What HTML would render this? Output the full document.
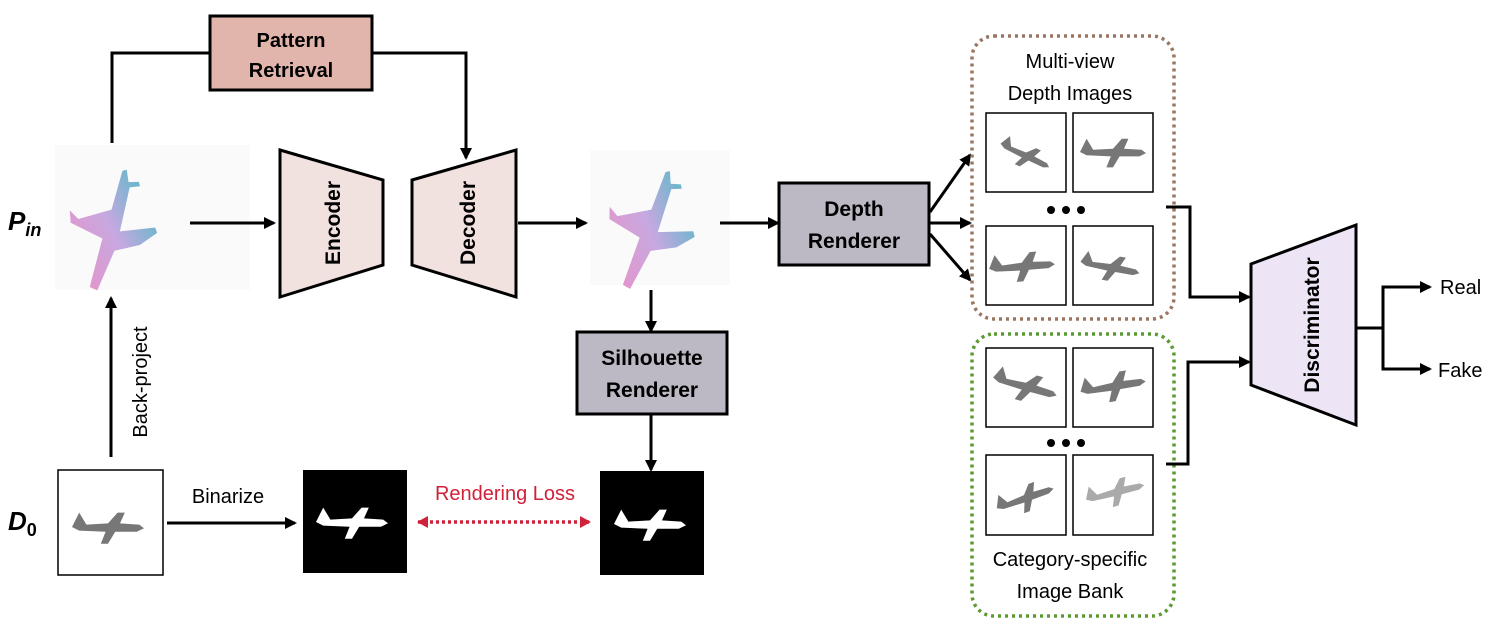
<!DOCTYPE html>
<html><head><meta charset="utf-8"><style>
body{margin:0;background:#fff}
svg{display:block}
text{font-family:"Liberation Sans",sans-serif}
</style></head><body>
<svg width="1495" height="628" viewBox="0 0 1495 628" xmlns="http://www.w3.org/2000/svg">
<defs>
<marker id="a" markerWidth="12" markerHeight="12" refX="10" refY="6" orient="auto" markerUnits="userSpaceOnUse"><path d="M0,0 L12,6 L0,12 z" fill="#000"/></marker>
<marker id="r" markerWidth="11" markerHeight="12" refX="10" refY="6" orient="auto-start-reverse" markerUnits="userSpaceOnUse"><path d="M0,0 L11,6 L0,12 z" fill="#d0213a"/></marker>
<linearGradient id="pg" x1="0" y1="1" x2="1" y2="0"><stop offset="0" stop-color="#f08cc0"/><stop offset="0.5" stop-color="#c8a8e0"/><stop offset="1" stop-color="#30c0c0"/></linearGradient>
<g id="plane3d">
<path d="M0,-60 L-4,-20 L-35,-5 L-45,-12 L-42,0 L-8,10 L-12,60 L-4,62 L6,20 L30,10 L45,-5 L42,-10 L8,0 L10,-45 L20,-48 L18,-52 L8,-50 L4,-62 z" fill="url(#pg)"/>
</g>
<g id="pl"><path d="M-30,0 L-24,-12 L-18,-2 L0,-3 L8,-12 L14,-12 L10,-3 L26,-2 L30,1 L24,4 L6,4 L0,14 L-6,14 L-2,4 L-24,3 z"/></g>
</defs>

<rect x="210" y="16" width="162" height="74" fill="#e1b5ab" stroke="#000" stroke-width="3"/>
<text x="291" y="47" font-size="20" font-weight="bold" text-anchor="middle">Pattern</text>
<text x="291" y="77" font-size="20" font-weight="bold" text-anchor="middle">Retrieval</text>
<polyline points="112,143 112,53 210,53" fill="none" stroke="#000" stroke-width="3"/>
<polyline points="372,53 466,53 466,158" fill="none" stroke="#000" stroke-width="3" marker-end="url(#a)"/>

<text x="8" y="230" font-size="26" font-weight="bold" font-style="italic" font-family="Liberation Serif,serif">P<tspan font-size="18" dy="6">in</tspan></text>
<rect x="55" y="145" width="195" height="145" fill="#fafafa"/>
<use href="#plane3d" transform="translate(112,230) rotate(10)"/>
<line x1="190" y1="223" x2="274" y2="223" stroke="#000" stroke-width="3" marker-end="url(#a)"/>

<polygon points="280,150 383,180 383,265 280,297" fill="#f1e1df" stroke="#000" stroke-width="3"/>
<text transform="translate(340,223) rotate(-90)" font-size="21" font-weight="bold" text-anchor="middle">Encoder</text>
<polygon points="412,180 516,150 516,297 412,265" fill="#f1e1df" stroke="#000" stroke-width="3"/>
<text transform="translate(475,223) rotate(-90)" font-size="21" font-weight="bold" text-anchor="middle">Decoder</text>
<line x1="518" y1="223" x2="586" y2="223" stroke="#000" stroke-width="3" marker-end="url(#a)"/>

<rect x="590" y="150" width="140" height="135" fill="#fafafa"/>
<use href="#plane3d" transform="translate(650,230) rotate(15)"/>
<line x1="720" y1="223" x2="778" y2="223" stroke="#000" stroke-width="3" marker-end="url(#a)"/>

<rect x="779" y="183" width="150" height="82" fill="#bcb8c4" stroke="#000" stroke-width="3"/>
<text x="854" y="216" font-size="21" font-weight="bold" text-anchor="middle">Depth</text>
<text x="854" y="248" font-size="21" font-weight="bold" text-anchor="middle">Renderer</text>
<line x1="930" y1="212" x2="970" y2="155" stroke="#000" stroke-width="3" marker-end="url(#a)"/>
<line x1="930" y1="223" x2="970" y2="223" stroke="#000" stroke-width="3" marker-end="url(#a)"/>
<line x1="930" y1="234" x2="970" y2="280" stroke="#000" stroke-width="3" marker-end="url(#a)"/>

<rect x="972" y="36" width="202" height="283" rx="22" fill="none" stroke="#9a7560" stroke-width="3.5" stroke-dasharray="3,4"/>
<text x="1070" y="68" font-size="20" text-anchor="middle">Multi-view</text>
<text x="1070" y="100" font-size="20" text-anchor="middle">Depth Images</text>
<g fill="#fff" stroke="#000" stroke-width="1.5">
<rect x="986" y="113" width="80" height="79"/><rect x="1073" y="113" width="80" height="79"/>
<rect x="986" y="226" width="80" height="79"/><rect x="1073" y="226" width="80" height="79"/>
<rect x="986" y="348" width="80" height="79"/><rect x="1073" y="348" width="80" height="79"/>
<rect x="986" y="455" width="80" height="80"/><rect x="1073" y="455" width="80" height="80"/>
</g>
<g fill="#777">
<use href="#pl" transform="translate(1025,155) rotate(25) scale(0.9)"/>
<use href="#pl" transform="translate(1113,152) scale(1.1)"/>
<use href="#pl" transform="translate(1022,266) rotate(-5) scale(1.1)"/>
<use href="#pl" transform="translate(1110,267) rotate(10) scale(1)"/>
<use href="#pl" transform="translate(1025,386) rotate(15) scale(1.1)"/>
<use href="#pl" transform="translate(1113,386) rotate(-10) scale(1.1)"/>
<use href="#pl" transform="translate(1025,498) rotate(-20) scale(1)"/>
<use href="#pl" transform="translate(1115,492) rotate(-15) scale(1)" fill="#aaa"/>
</g>
<g fill="#000"><circle cx="1051" cy="210" r="4"/><circle cx="1066" cy="210" r="4"/><circle cx="1081" cy="210" r="4"/>
<circle cx="1051" cy="443" r="4"/><circle cx="1066" cy="443" r="4"/><circle cx="1081" cy="443" r="4"/></g>

<rect x="972" y="334" width="202" height="282" rx="22" fill="none" stroke="#5a9a30" stroke-width="3.5" stroke-dasharray="3,4"/>
<text x="1070" y="566" font-size="20" text-anchor="middle">Category-specific</text>
<text x="1070" y="598" font-size="20" text-anchor="middle">Image Bank</text>

<polyline points="1166,207 1190,207 1190,297 1249,297" fill="none" stroke="#000" stroke-width="3" marker-end="url(#a)"/>
<polyline points="1166,464 1188,464 1188,362 1249,362" fill="none" stroke="#000" stroke-width="3" marker-end="url(#a)"/>
<polygon points="1251,264 1356,225 1356,425 1251,385" fill="#ede4f6" stroke="#000" stroke-width="3"/>
<text transform="translate(1319,325) rotate(-90)" font-size="21" font-weight="bold" text-anchor="middle">Discriminator</text>
<line x1="1356" y1="328" x2="1383" y2="328" stroke="#000" stroke-width="3"/>
<polyline points="1420,287 1383,287 1383,369 1420,369" fill="none" stroke="#000" stroke-width="3"/>
<line x1="1410" y1="287" x2="1430" y2="287" stroke="#000" stroke-width="3" marker-end="url(#a)"/>
<line x1="1410" y1="369" x2="1430" y2="369" stroke="#000" stroke-width="3" marker-end="url(#a)"/>
<text x="1440" y="294" font-size="20">Real</text>
<text x="1438" y="377" font-size="20">Fake</text>

<line x1="651" y1="290" x2="651" y2="331" stroke="#000" stroke-width="3" marker-end="url(#a)"/>
<rect x="577" y="332" width="150" height="82" fill="#bcb8c4" stroke="#000" stroke-width="3"/>
<text x="652" y="365" font-size="21" font-weight="bold" text-anchor="middle">Silhouette</text>
<text x="652" y="397" font-size="21" font-weight="bold" text-anchor="middle">Renderer</text>
<line x1="651" y1="415" x2="651" y2="470" stroke="#000" stroke-width="3" marker-end="url(#a)"/>

<line x1="111" y1="457" x2="111" y2="298" stroke="#000" stroke-width="3" marker-end="url(#a)"/>
<text transform="translate(147,382) rotate(-90)" font-size="20" text-anchor="middle">Back-project</text>
<text x="8" y="530" font-size="26" font-weight="bold" font-style="italic" font-family="Liberation Serif,serif">D<tspan font-size="18" dy="6" font-style="normal">0</tspan></text>
<rect x="58" y="470" width="105" height="105" fill="#fff" stroke="#000" stroke-width="1.5"/>
<use href="#pl" transform="translate(108,527) scale(1.2)" fill="#777"/>
<text x="228" y="503" font-size="20" text-anchor="middle">Binarize</text>
<line x1="167" y1="523" x2="295" y2="523" stroke="#000" stroke-width="3" marker-end="url(#a)"/>
<rect x="303" y="470" width="104" height="103" fill="#000"/>
<use href="#pl" transform="translate(352,522) scale(1.2)" fill="#fff"/>
<text x="505" y="500" font-size="20" fill="#d0213a" text-anchor="middle">Rendering Loss</text>
<line x1="418" y1="522" x2="590" y2="522" stroke="#d0213a" stroke-width="3.5" stroke-dasharray="3,3" marker-start="url(#r)" marker-end="url(#r)"/>
<rect x="600" y="471" width="104" height="104" fill="#000"/>
<use href="#pl" transform="translate(650,524) scale(1.2)" fill="#fff"/>
</svg>
</body></html>
